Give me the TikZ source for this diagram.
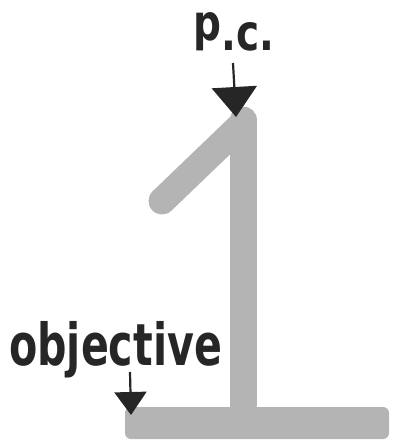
\documentclass[tikz,border=0pt]{standalone}
\usepackage{fontspec}
\newfontfamily\hand{DejaVu Sans}
\usetikzlibrary{arrows.meta}
\definecolor{marker}{RGB}{180,180,180}
\definecolor{ink}{RGB}{38,38,38}
\tikzset{
  markerstroke/.style={draw=marker,line width=#1,line cap=round,line join=round},
  label/.style={text=ink,inner sep=0pt,font=\hand\bfseries},
  pointer/.style={draw=ink,fill=ink,line width=2.2pt},
}
\begin{document}
\begin{tikzpicture}[x=1pt,y=-1pt]
\useasboundingbox (0,0) rectangle (397,444);
% the digit "1"
\coordinate (vtop) at (243,120);
\coordinate (vbot) at (243,404);
\coordinate (dtop) at (238,128);
\coordinate (dbot) at (162,201);
\coordinate (bl) at (125,407);
\coordinate (br) at (389,439);
\draw[markerstroke=27pt] (dtop) -- (dbot);
\draw[markerstroke=27pt] (vtop) -- (vbot);
\fill[marker,rounded corners=6pt] (bl) rectangle (br);
% labels
\node[label,anchor=base,xscale=0.78] (pc) at (234,51)
  {\fontsize{50}{50}\selectfont\raisebox{10pt}{p}.c.};
\node[label,anchor=base west,xscale=0.71] (obj) at (9,365)
  {\fontsize{58}{58}\selectfont objective};
% pointers
\coordinate (pcs) at (233,63);
\coordinate (pce) at (236,117);
\draw[pointer,-{Triangle[width=45pt,length=30pt]}] (pcs) -- (pce);
\coordinate (objs) at (130,372);
\coordinate (obje) at (131,415);
\draw[pointer,-{Triangle[width=32pt,length=23pt]}] (objs) -- (obje);
\end{tikzpicture}
\end{document}
